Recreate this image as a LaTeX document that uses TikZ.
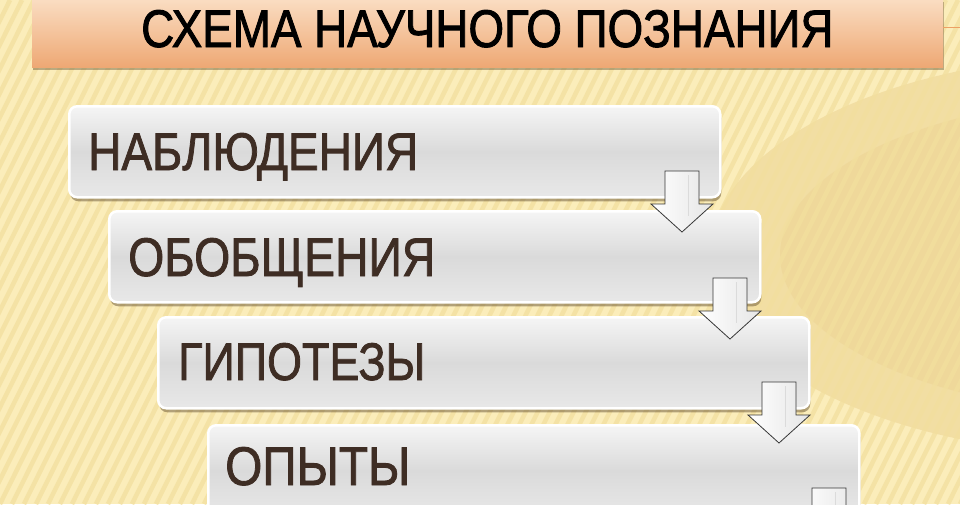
\documentclass[tikz,border=0pt]{standalone}
\usepackage{fontspec}
\setmainfont{Liberation Sans}
\newfontfamily\boxfont[FakeBold=1.6]{Liberation Sans}
\newfontfamily\titlefont[FakeBold=1.8]{Liberation Sans}
\usetikzlibrary{shadows}
\definecolor{bgcream}{RGB}{251,237,186}
\definecolor{bgstripe}{RGB}{242,223,158}
\definecolor{bgtan}{RGB}{228,196,122}
\definecolor{bartop}{RGB}{250,221,194}
\definecolor{barbot}{RGB}{238,168,116}
\definecolor{barline}{RGB}{236,160,100}
\definecolor{txtbrown}{RGB}{62,45,36}
\definecolor{boxtop}{RGB}{245,245,245}
\definecolor{boxmid}{RGB}{218,218,218}
\definecolor{boxbot}{RGB}{232,232,232}
\definecolor{arrline}{RGB}{55,55,55}
\definecolor{shadowc}{RGB}{90,70,40}
\tikzset{
  stepbox/.style={rectangle, rounded corners=8pt, minimum width=651pt,
    minimum height=91pt, anchor=north west, inner sep=0pt,
    top color=boxtop, bottom color=boxbot, middle color=boxmid,
    draw=white, line width=2.5pt,
    drop shadow={shadow xshift=1pt, shadow yshift=-4pt, opacity=0.45, fill=shadowc}},
  steptext/.style={anchor=base west, inner sep=0pt, text=txtbrown, font=\boxfont},
  titlebar/.style={rectangle, anchor=north west, inner sep=0pt,
    minimum width=911pt, minimum height=68pt, top color=bartop, bottom color=barbot,
    drop shadow={shadow xshift=1pt, shadow yshift=-3pt, opacity=0.4, fill=shadowc}},
  titletext/.style={anchor=base west, inner sep=0pt, text=black, font=\titlefont},
  blockarrow/.style={draw=arrline, line width=0.8pt, left color=white,
    right color=black!10, line join=miter},
  arrowglint/.style={draw=black!14, line width=1pt},
}
\newcommand\myblockarrow[2]{%
  \draw[blockarrow] ({#1-17},{#2-61}) -- ({#1+17},{#2-61}) -- ({#1+17},{#2-28})
    -- ({#1+31},{#2-28}) -- (#1,#2) -- ({#1-31},{#2-28}) -- ({#1-17},{#2-28}) -- cycle;
  \draw[arrowglint] ({#1+6},{#2-57}) -- ({#1+6},{#2-16});
}
\begin{document}
\begin{tikzpicture}[x=1pt,y=-1pt]
  \useasboundingbox (0,0) rectangle (960,504);
  \clip (0,0) rectangle (960,504);
  % background
  \fill[bgcream] (0,0) rectangle (960,504);
  \fill[bgtan, opacity=0.35] (1120,255) ellipse [x radius=410, y radius=200];
  \fill[bgtan, opacity=0.2] (1150,255) ellipse [x radius=370, y radius=160];
  \foreach \s in {-300,-288,...,960} {
    \draw[bgstripe, line width=4.5pt, opacity=0.75] (\s,504) -- ({\s+250},0);
  }
  % title
  \node[titlebar] (bar) at (32,-1) {};
  \draw[barline, line width=1pt] (bar.east |- 0,27) -- (960,27);
  \node[titletext] (title) at (141,47) {\resizebox{692pt}{37pt}{СХЕМА НАУЧНОГО ПОЗНАНИЯ}};
  % boxes
  \node[stepbox] (b1) at (68,105) {};
  \node[stepbox] (b2) at (108,210) {};
  \node[stepbox] (b3) at (157,316) {};
  \node[stepbox] (b4) at (207,424) {};
  \node[steptext] (t1) at (88,170) {\resizebox{330pt}{37pt}{НАБЛЮДЕНИЯ}};
  \node[steptext] (t2) at (128,276) {\resizebox{307pt}{38pt}{ОБОБЩЕНИЯ}};
  \node[steptext] (t3) at (178,380) {\resizebox{247pt}{37pt}{ГИПОТЕЗЫ}};
  \node[steptext] (t4) at (225,485) {\resizebox{185pt}{38pt}{ОПЫТЫ}};
  % arrows
  \myblockarrow{682}{232}
  \myblockarrow{730}{339}
  \myblockarrow{779}{443}
  \myblockarrow{829}{549}
\end{tikzpicture}
\end{document}
